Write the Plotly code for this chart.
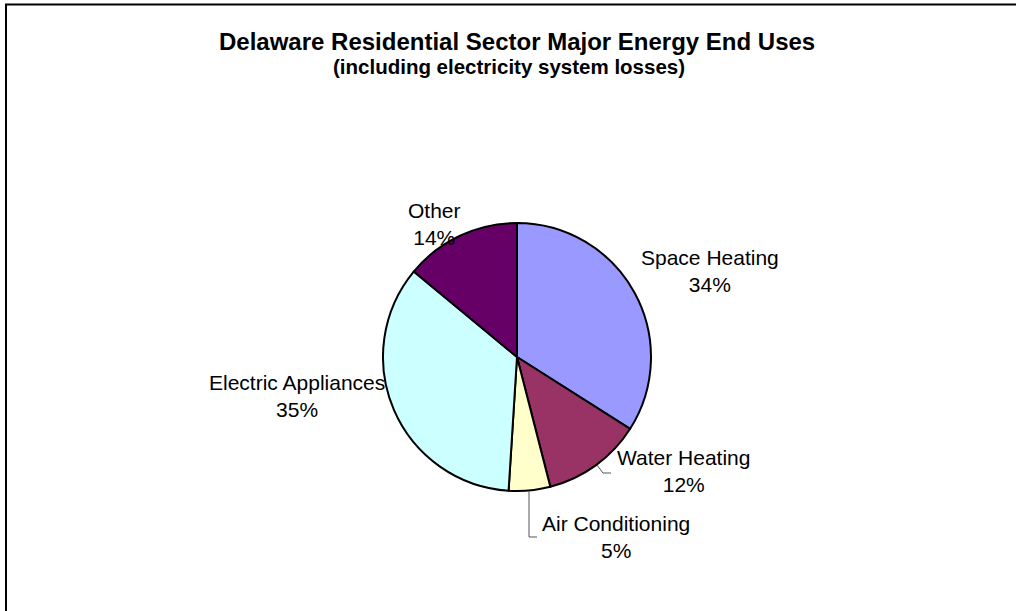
import plotly.graph_objects as go

W, H = 1016, 611

categories = ["Space Heating", "Water Heating", "Air Conditioning", "Electric Appliances", "Other"]
values = [34, 12, 5, 35, 14]
colors = ["#9999FF", "#993366", "#FFFFCC", "#CCFFFF", "#660066"]

# label anchor positions (pixels) for the outside labels
label_pos = {
    "Space Heating": (710, 271),
    "Water Heating": (683, 471),
    "Air Conditioning": (616, 537),
    "Electric Appliances": (297, 396),
    "Other": (434, 224),
}

cx, cy, r = 517, 357, 134
FONT = "Liberation Sans, Arial, sans-serif"

def px(x):
    return x / W

def py(y):
    return 1 - y / H

fig = go.Figure(go.Pie(
    labels=categories,
    values=values,
    sort=False,
    direction="clockwise",
    rotation=0,
    marker=dict(colors=colors, line=dict(color="black", width=2)),
    textinfo="none",
    hoverinfo="label+percent",
    domain=dict(x=[px(cx - r), px(cx + r)], y=[py(cy + r), py(cy - r)]),
    showlegend=False,
))

total = sum(values)
annotations = []
for cat, v in zip(categories, values):
    x, y = label_pos[cat]
    annotations.append(dict(
        x=px(x), y=py(y), xref="paper", yref="paper",
        text=f"{cat}<br>{round(100 * v / total)}%",
        showarrow=False, xanchor="center", yanchor="middle",
        font=dict(family=FONT, size=21, color="black"),
    ))

annotations.append(dict(
    x=px(517), y=py(41), xref="paper", yref="paper",
    text="<b>Delaware Residential Sector Major Energy End Uses</b>",
    showarrow=False, xanchor="center", yanchor="middle",
    font=dict(family=FONT, size=24, color="black"),
))
annotations.append(dict(
    x=px(509), y=py(67), xref="paper", yref="paper",
    text="<b>(including electricity system losses)</b>",
    showarrow=False, xanchor="center", yanchor="middle",
    font=dict(family=FONT, size=20.5, color="black"),
))

shapes = [
    # chart frame (extends past right/bottom edges)
    dict(type="rect", xref="paper", yref="paper",
         x0=px(6), y0=py(H + 10), x1=px(W + 10), y1=py(4.5),
         line=dict(color="black", width=2), fillcolor="rgba(0,0,0,0)"),
    # leader line: Water Heating
    dict(type="path", xref="paper", yref="paper",
         path=f"M {px(597)},{py(465)} L {px(603)},{py(473)} L {px(611)},{py(473)}",
         line=dict(color="#555555", width=1)),
    # leader line: Air Conditioning
    dict(type="path", xref="paper", yref="paper",
         path=f"M {px(529)},{py(491)} L {px(529)},{py(537)} L {px(537)},{py(537)}",
         line=dict(color="#555555", width=1)),
]

fig.update_layout(
    width=W, height=H,
    margin=dict(l=0, r=0, t=0, b=0),
    paper_bgcolor="white",
    plot_bgcolor="white",
    annotations=annotations,
    shapes=shapes,
)

fig.write_html(
    "out.html",
    config={"displayModeBar": False},
    post_script="document.body.style.margin='0';document.body.style.overflow='hidden';",
)
